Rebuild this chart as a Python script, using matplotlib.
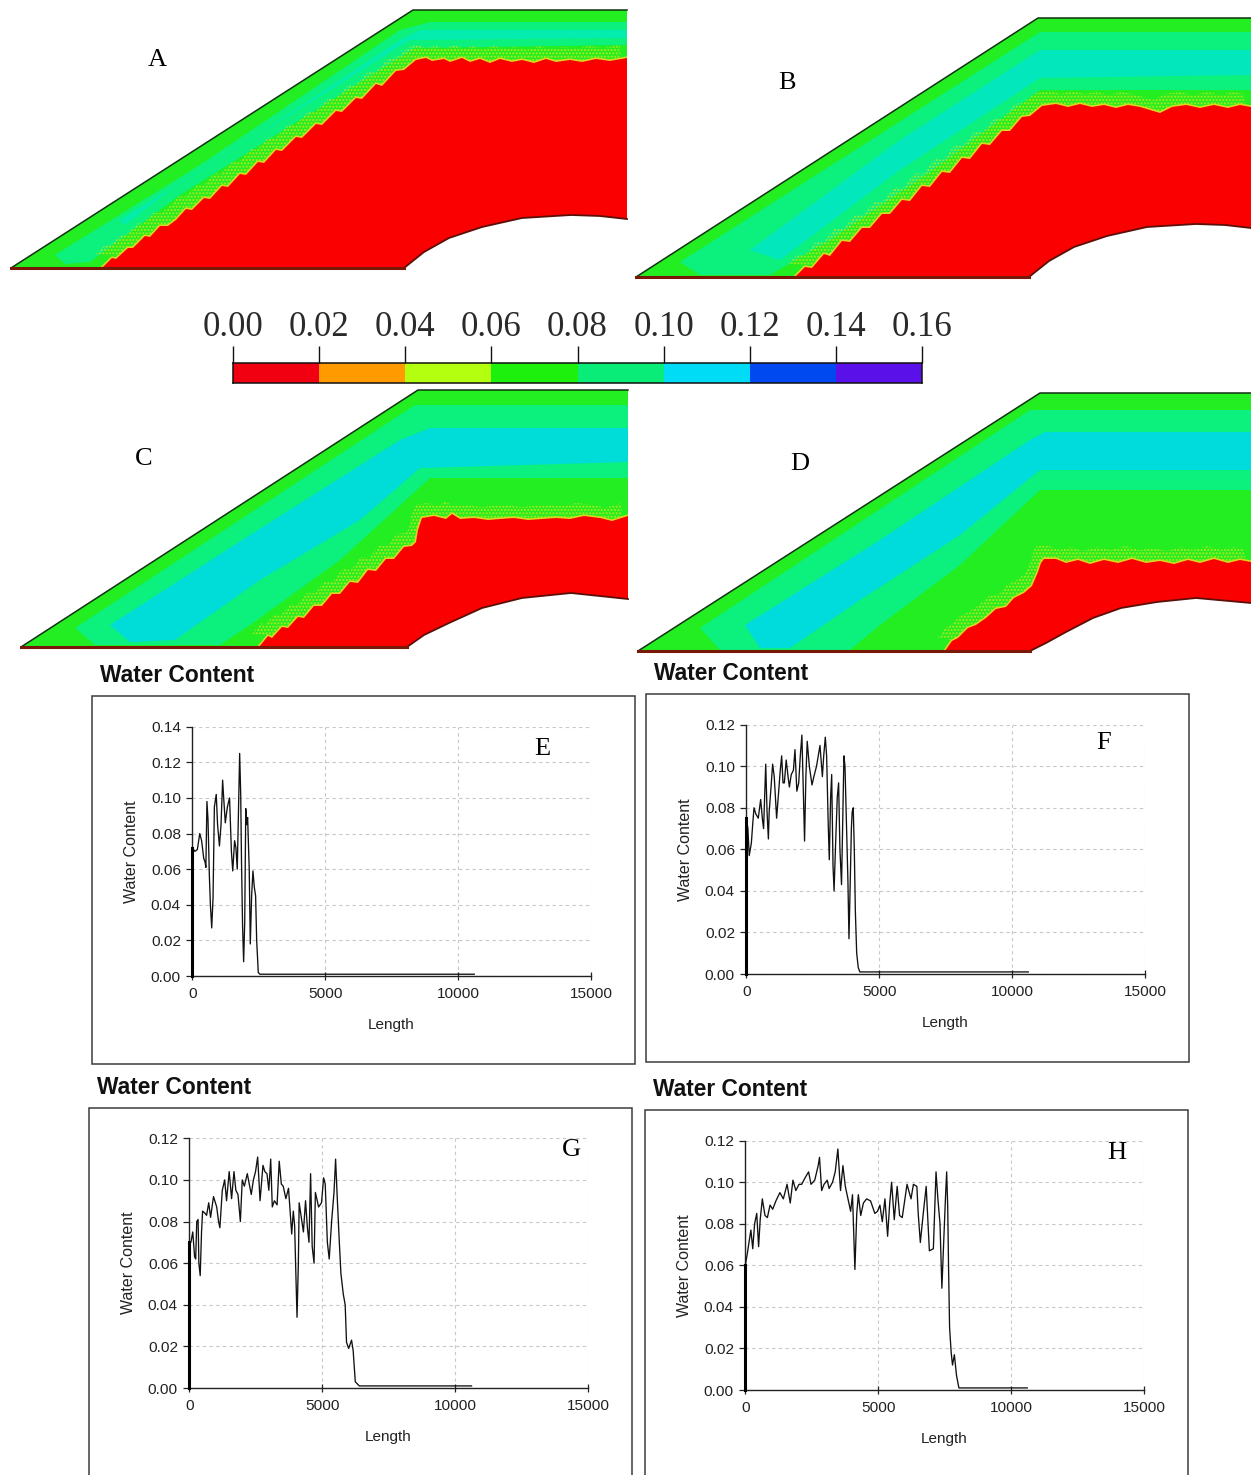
"""
Water content panels: four dam sections, shared scale bar and four profile charts.
"""

import matplotlib
matplotlib.use('Agg')
import matplotlib.pyplot as plt
from matplotlib.patches import Polygon, Rectangle

WIDTH, HEIGHT = 1251, 1475

# Scale bar
SCALE_TICKS = [0.00, 0.02, 0.04, 0.06, 0.08, 0.10, 0.12, 0.14, 0.16]
SCALE_COLORS = ['#f00010', '#ff9a00', '#b4ff10', '#1ef00e', '#0aec78', '#00dcf5', '#0048f0', '#5a10e8']

# Dam outlines (image pixels): toe, crest, top right, right bottom, arch..., base end
OUTLINE_A_X = [11, 413, 627, 627, 600, 571, 522, 482, 449, 424, 404]
OUTLINE_A_Y = [268, 10, 10, 219, 216, 215, 218, 227, 238, 252, 268]
OUTLINE_B_X = [636, 1038, 1251, 1251, 1225, 1196, 1147, 1107, 1074, 1049, 1029]
OUTLINE_B_Y = [277, 18, 18, 228, 225, 224, 227, 236, 247, 261, 277]
OUTLINE_C_X = [21, 418, 628, 628, 571, 522, 482, 449, 424, 407]
OUTLINE_C_Y = [647, 390, 390, 599, 593, 598, 608, 623, 635, 647]
OUTLINE_D_X = [638, 1040, 1251, 1251, 1196, 1157, 1121, 1093, 1066, 1046, 1030]
OUTLINE_D_Y = [651, 393, 393, 603, 598, 602, 608, 618, 632, 643, 651]

# Edge of the dry (red) core
CORE_A_X = [102, 112, 116, 128, 133, 145, 150, 160, 168, 176, 186, 192, 204, 210, 222, 228, 240, 246, 258, 264,
            276, 282, 296, 302, 316, 322, 336, 342, 356, 362, 376, 382, 396, 404, 416, 426, 432, 444, 450, 462,
            470, 480, 490, 500, 512, 522, 534, 546, 556, 570, 582, 596, 610, 627]
CORE_A_Y = [268, 258, 259, 248, 248, 236, 237, 226, 226, 220, 209, 210, 198, 199, 186, 187, 174, 175, 162, 163,
            150, 151, 137, 138, 124, 125, 111, 112, 98, 99, 84, 86, 71, 70, 60, 58, 61, 59, 62, 58,
            62, 59, 63, 59, 62, 60, 63, 59, 62, 60, 62, 59, 61, 58]
CORE_B_X = [795, 805, 812, 824, 830, 842, 850, 862, 870, 882, 890, 902, 910, 922, 930, 942, 950, 962, 970, 982,
            990, 1002, 1010, 1022, 1030, 1042, 1056, 1068, 1080, 1092, 1104, 1116, 1128, 1140, 1150, 1160, 1172,
            1186, 1200, 1214, 1228, 1240, 1251]
CORE_B_Y = [277, 267, 268, 254, 256, 241, 242, 228, 228, 214, 214, 200, 201, 186, 187, 172, 173, 158, 159, 144,
            145, 131, 131, 117, 116, 106, 104, 107, 104, 107, 105, 108, 105, 107, 110, 113, 107,
            105, 108, 105, 108, 105, 107]
CORE_C_X = [259, 268, 272, 282, 288, 298, 304, 314, 322, 332, 340, 350, 358, 368, 376, 386, 394, 404, 412, 416,
            418, 422, 434, 446, 452, 460, 474, 488, 500, 514, 528, 542, 556, 570, 584, 600, 612, 628]
CORE_C_Y = [647, 636, 638, 627, 628, 617, 618, 606, 606, 594, 594, 582, 583, 570, 571, 559, 559, 547, 546, 542,
            530, 518, 516, 519, 514, 519, 518, 520, 519, 518, 520, 519, 518, 519, 516, 518, 521, 516]
CORE_D_X = [945, 952, 958, 968, 976, 986, 996, 1006, 1014, 1024, 1032, 1038, 1041, 1044, 1056, 1066, 1078, 1090,
            1104, 1118, 1132, 1146, 1160, 1174, 1188, 1200, 1214, 1228, 1240, 1251]
CORE_D_Y = [651, 641, 638, 628, 625, 618, 609, 607, 598, 593, 586, 572, 563, 559, 559, 563, 560, 564,
            560, 563, 559, 563, 561, 564, 560, 563, 559, 563, 560, 562]

# Wetter bands inside each section
TEAL_A_X = [55, 200, 400, 430, 627, 627, 415, 300, 180, 90, 65]
TEAL_A_Y = [255, 165, 30, 22, 22, 45, 48, 120, 195, 262, 264]
CYAN_A_X = [120, 250, 400, 420, 627, 627, 410, 290, 170, 125]
CYAN_A_Y = [220, 140, 40, 30, 30, 38, 40, 115, 190, 225]
TEAL_B_X = [680, 1040, 1251, 1251, 1040, 930, 830, 770, 700]
TEAL_B_Y = [262, 32, 32, 90, 90, 172, 240, 275, 275]
CYAN_B_X = [750, 900, 1040, 1251, 1251, 1040, 900, 780]
CYAN_B_Y = [250, 140, 50, 50, 75, 78, 170, 260]
TEAL_C_X = [75, 415, 628, 628, 430, 340, 250, 220, 95]
TEAL_C_Y = [628, 405, 405, 478, 478, 560, 625, 645, 645]
CYAN_C_X = [110, 250, 400, 430, 628, 628, 420, 360, 260, 175, 130]
CYAN_C_Y = [625, 535, 440, 428, 428, 462, 468, 520, 580, 640, 642]
TEAL_D_X = [700, 1030, 1251, 1251, 1040, 960, 880, 850, 720]
TEAL_D_Y = [628, 410, 410, 490, 490, 565, 625, 650, 650]
CYAN_D_X = [745, 880, 1030, 1045, 1251, 1251, 1040, 960, 860, 790, 760]
CYAN_D_Y = [625, 540, 440, 432, 432, 470, 470, 535, 600, 648, 648]

# Profile E
LENGTH_E = [0, 0, 100, 190, 280, 350, 430, 480, 510, 550, 590, 640, 680, 730, 780, 830, 900, 950, 1020, 1080, 1140,
            1180, 1240, 1320, 1400, 1470, 1520, 1590, 1640, 1690, 1730, 1780, 1820, 1850, 1890, 1930, 1970, 2010,
            2040, 2080, 2140, 2180, 2230, 2280, 2330, 2380, 2420, 2480, 2540, 10600]
WATER_E = [0, .072, .070, .071, .080, .076, .066, .064, .061, .098, .088, .057, .040, .027, .044, .095, .102, .085,
           .073, .085, .110, .100, .086, .095, .100, .070, .059, .076, .072, .060, .088, .125, .102, .064, .028,
           .008, .030, .094, .085, .089, .060, .018, .045, .059, .050, .045, .020, .002, .001, .001]

# Profile F
LENGTH_F = [0, 0, 60, 110, 190, 240, 290, 360, 450, 540, 610, 650, 730, 780, 830, 860, 930, 990, 1050, 1140, 1200,
            1270, 1330, 1380, 1430, 1500, 1570, 1620, 1690, 1770, 1830, 1900, 1970, 2030, 2090, 2140, 2190, 2240,
            2290, 2370, 2470, 2540, 2640, 2770, 2860, 2910, 2970, 3020, 3080, 3120, 3170, 3210, 3260, 3300, 3350,
            3420, 3470, 3520, 3580, 3620, 3670, 3710, 3770, 3820, 3860, 3900, 3950, 3980, 4020, 4060, 4100, 4150,
            4210, 4270, 10600]
WATER_F = [0, .075, .070, .057, .063, .072, .080, .077, .075, .084, .074, .070, .101, .078, .065, .078, .090, .101,
           .095, .075, .085, .097, .105, .092, .092, .103, .095, .090, .096, .098, .108, .088, .092, .105, .115,
           .090, .064, .095, .112, .100, .091, .095, .100, .110, .095, .105, .114, .105, .072, .055, .085, .096,
           .052, .040, .060, .085, .092, .060, .043, .070, .105, .100, .070, .045, .017, .040, .070, .078, .080,
           .060, .030, .010, .003, .001, .001]

# Profile G
LENGTH_G = [0, 0, 60, 130, 200, 240, 280, 330, 360, 410, 460, 500, 590, 650, 730, 800, 910, 1030, 1100, 1150, 1240,
            1330, 1400, 1500, 1590, 1680, 1750, 1830, 1920, 1990, 2070, 2180, 2330, 2410, 2490, 2570, 2660, 2770,
            2840, 2920, 2990, 3060, 3120, 3200, 3300, 3380, 3460, 3530, 3630, 3730, 3850, 3910, 3960, 4010, 4050,
            4100, 4130, 4210, 4290, 4370, 4440, 4500, 4560, 4620, 4690, 4740, 4810, 4860, 4970, 5050, 5110, 5190,
            5260, 5350, 5440, 5500, 5560, 5640, 5700, 5790, 5860, 5910, 5990, 6100, 6160, 6240, 6390, 10610]
WATER_G = [0, .070, .070, .075, .063, .062, .080, .081, .060, .054, .075, .085, .084, .083, .089, .082, .092, .087,
           .080, .077, .095, .100, .090, .104, .091, .104, .095, .093, .080, .100, .097, .103, .093, .100, .104,
           .111, .090, .107, .104, .103, .095, .110, .087, .090, .088, .109, .098, .097, .091, .096, .074, .085,
           .078, .053, .034, .060, .089, .082, .075, .090, .077, .070, .103, .068, .060, .094, .090, .087, .089,
           .101, .098, .070, .062, .080, .094, .110, .092, .070, .055, .045, .040, .022, .019, .023, .018, .003,
           .001, .001]

# Profile H
LENGTH_H = [0, 0, 80, 150, 210, 280, 350, 430, 500, 560, 640, 740, 830, 930, 1030, 1150, 1300, 1430, 1570, 1690,
            1790, 1900, 2020, 2120, 2240, 2380, 2470, 2610, 2740, 2790, 2870, 2960, 3080, 3150, 3280, 3380, 3480,
            3580, 3670, 3760, 3860, 3960, 4030, 4120, 4190, 4250, 4340, 4440, 4560, 4710, 4870, 4970, 5060, 5150,
            5250, 5350, 5430, 5500, 5600, 5710, 5800, 5900, 6080, 6230, 6320, 6450, 6500, 6580, 6690, 6800, 6920,
            7070, 7170, 7240, 7320, 7390, 7470, 7530, 7570, 7610, 7640, 7680, 7740, 7790, 7860, 7940, 8030, 10600]
WATER_H = [0, .060, .066, .072, .077, .068, .080, .085, .069, .082, .092, .084, .083, .089, .087, .091, .095, .092,
           .099, .090, .101, .096, .099, .099, .102, .105, .099, .101, .108, .112, .096, .099, .101, .097, .100,
           .105, .116, .096, .108, .098, .092, .086, .094, .058, .085, .094, .084, .090, .092, .091, .085, .086,
           .089, .081, .092, .074, .090, .100, .082, .098, .084, .083, .099, .092, .099, .098, .085, .071, .085,
           .098, .067, .068, .105, .092, .080, .049, .075, .094, .105, .088, .060, .030, .018, .012, .017, .007,
           .001, .001]

X_TICKS = [0, 5000, 10000, 15000]
Y_TICKS_E = [0.00, 0.02, 0.04, 0.06, 0.08, 0.10, 0.12, 0.14]
Y_TICKS_OTHER = [0.00, 0.02, 0.04, 0.06, 0.08, 0.10, 0.12]


def px_axes(fig, left, right, top, bottom):
    """Axes placed by image pixels."""
    return fig.add_axes([left / WIDTH, 1 - bottom / HEIGHT, (right - left) / WIDTH, (bottom - top) / HEIGHT])


def draw_dam(ov, out_x, out_y, core_x, core_y, teal_x, teal_y, cyan_x, cyan_y, cyan_color):
    outline = Polygon(list(zip(out_x, out_y)), closed=True, facecolor='#22ee22', edgecolor='none', zorder=2)
    ov.add_patch(outline)

    bands = [
        ov.fill(teal_x, teal_y, color='#0cf07e', lw=0, zorder=3)[0],
        ov.fill(cyan_x, cyan_y, color=cyan_color, lw=0, zorder=4)[0],
    ]
    # speckled wet front just above the core edge
    front_x = [x - 7 for x in core_x] + [out_x[3], out_x[-1]]
    front_y = [y - 13 for y in core_y] + [out_y[3], out_y[-1]]
    bands.append(ov.fill(front_x, front_y, facecolor='none', edgecolor='#b4e81e', hatch='.....',
                         lw=0, zorder=5)[0])
    for band in bands:
        band.set_clip_path(outline)

    poly_x = list(core_x) + list(out_x[3:])
    poly_y = list(core_y) + list(out_y[3:])
    edge = ov.plot(core_x, core_y, color='#d8d820', lw=2.4, zorder=6)[0]
    edge.set_clip_path(outline)
    ov.fill(poly_x, poly_y, color='#fb0000', lw=0, zorder=7)

    # dark boundary
    ov.plot(out_x[:3], out_y[:3], color='#123012', lw=1.1, zorder=8)
    ov.plot(out_x[3:], out_y[3:], color='#5a1008', lw=1.3, zorder=8)
    ov.plot([out_x[-1], out_x[0]], [out_y[-1], out_y[0]], color='#7a1808', lw=2.2, zorder=8)


def draw_profile(fig, ov, box, x0, y_top, y_zero, title_xy, letter, letter_xy, length, water, y_ticks):
    left, right, top, bottom = box
    ov.add_patch(Rectangle((left, top), right - left, bottom - top, facecolor='white',
                           edgecolor='#3c3c3c', lw=1.1, zorder=1))
    ov.text(title_xy[0], title_xy[1], 'Water Content', fontsize=16.4, fontweight='bold',
            family='Liberation Sans', color='#111111', ha='left', va='center', zorder=9)

    ax = px_axes(fig, x0, x0 + 399, y_top, y_zero)
    ax.patch.set_alpha(0)
    ax.set_xlim(0, 15000)
    ax.set_ylim(0, y_ticks[-1])
    ax.set_xticks(X_TICKS)
    ax.set_yticks(y_ticks)
    ax.set_yticklabels([f'{t:.2f}' for t in y_ticks])
    ax.grid(True, color='#c8c8c8', linestyle=(0, (3, 3)), linewidth=0.8)
    ax.set_axisbelow(True)
    for side in ['top', 'right']:
        ax.spines[side].set_visible(False)
    for side in ['left', 'bottom']:
        ax.spines[side].set_color('#222222')
        ax.spines[side].set_linewidth(1.0)
    ax.tick_params(axis='y', direction='out', length=4.2, width=0.9, color='#222222', pad=4,
                   labelsize=11.1, labelcolor='#222222')
    ax.tick_params(axis='x', direction='inout', length=6, width=0.9, color='#222222', pad=5,
                   labelsize=11.1, labelcolor='#222222')
    for label in ax.get_xticklabels() + ax.get_yticklabels():
        label.set_family('Liberation Sans')
    for label in ax.get_xticklabels():
        label.set_x(label.get_position()[0])

    ax.plot(length, water, color='#111111', lw=0.95, clip_on=False, zorder=3)
    # the trace runs up and down at the start, so this looks like a heavy bar
    ax.plot(length[:2], water[:2], color='#000000', lw=2.2, clip_on=False, zorder=3)

    ov.text(x0 + 199, y_zero + 49, 'Length', fontsize=11, family='Liberation Sans', color='#222222',
            ha='center', va='center', zorder=9)
    ov.text(x0 - 61, (y_top + y_zero) / 2, 'Water Content', fontsize=11.5, family='Liberation Sans',
            color='#222222', rotation=90, ha='center', va='center', zorder=9)
    ov.text(letter_xy[0], letter_xy[1], letter, fontsize=19, family='Liberation Serif', color='black',
            ha='center', va='center', zorder=9)


def main():
    fig = plt.figure(figsize=(WIDTH / 100, HEIGHT / 100), dpi=100, facecolor='white')

    ov = fig.add_axes([0, 0, 1, 1])
    ov.set_xlim(0, WIDTH)
    ov.set_ylim(HEIGHT, 0)
    ov.axis('off')

    draw_dam(ov, OUTLINE_A_X, OUTLINE_A_Y, CORE_A_X, CORE_A_Y, TEAL_A_X, TEAL_A_Y, CYAN_A_X, CYAN_A_Y, '#04ecae')
    draw_dam(ov, OUTLINE_B_X, OUTLINE_B_Y, CORE_B_X, CORE_B_Y, TEAL_B_X, TEAL_B_Y, CYAN_B_X, CYAN_B_Y, '#02e8bc')
    draw_dam(ov, OUTLINE_C_X, OUTLINE_C_Y, CORE_C_X, CORE_C_Y, TEAL_C_X, TEAL_C_Y, CYAN_C_X, CYAN_C_Y, '#00dcd8')
    draw_dam(ov, OUTLINE_D_X, OUTLINE_D_Y, CORE_D_X, CORE_D_Y, TEAL_D_X, TEAL_D_Y, CYAN_D_X, CYAN_D_Y, '#00dcdc')

    for letter, x, y in [('A', 157, 60), ('B', 787, 83), ('C', 144, 459), ('D', 800, 464)]:
        ov.text(x, y, letter, fontsize=19, family='Liberation Serif', color='black',
                ha='center', va='center', zorder=9)

    # Scale bar
    bar = px_axes(fig, 233, 922, 363, 383)
    bar.bar(SCALE_TICKS[:-1], [1] * len(SCALE_COLORS), width=0.02, align='edge', color=SCALE_COLORS, lw=0)
    bar.set_xlim(SCALE_TICKS[0], SCALE_TICKS[-1])
    bar.set_ylim(0, 1)
    bar.set_yticks([])
    bar.set_xticks(SCALE_TICKS)
    bar.set_xticklabels([f'{t:.2f}' for t in SCALE_TICKS], family='Liberation Serif', fontsize=25, color='#2a2a2a')
    bar.xaxis.tick_top()
    bar.tick_params(axis='x', direction='out', length=12, width=1.0, color='#111111', pad=2)
    for spine in bar.spines.values():
        spine.set_color('#111111')
        spine.set_linewidth(1.1)

    draw_profile(fig, ov, (92, 635, 696, 1064), 192.3, 726.7, 976, (100, 676), 'E', (542, 749),
                 LENGTH_E, WATER_E, Y_TICKS_E)
    draw_profile(fig, ov, (646, 1189, 694, 1062), 746.3, 724.7, 974, (654, 674), 'F', (1104, 743),
                 LENGTH_F, WATER_F, Y_TICKS_OTHER)
    draw_profile(fig, ov, (89, 632, 1108, 1490), 189.3, 1138.3, 1388, (97, 1088), 'G', (571, 1150),
                 LENGTH_G, WATER_G, Y_TICKS_OTHER)
    draw_profile(fig, ov, (645, 1188, 1110, 1490), 745.3, 1140.7, 1390, (653, 1090), 'H', (1117, 1153),
                 LENGTH_H, WATER_H, Y_TICKS_OTHER)

    fig.savefig('out.png', dpi=100)


if __name__ == "__main__":
    main()
